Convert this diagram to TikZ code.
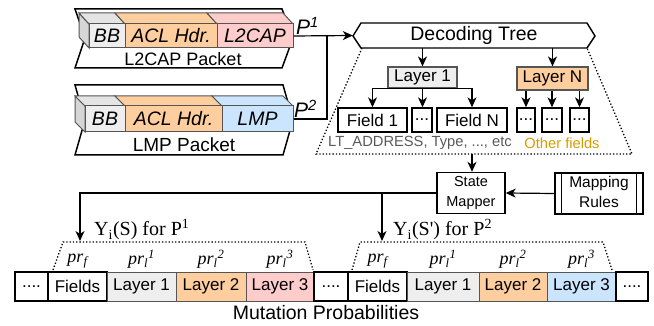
\documentclass[tikz,border=0pt]{standalone}
\usepackage{fontspec}
\setmainfont{Liberation Sans}
\newfontfamily\tnr{Liberation Serif}
\usetikzlibrary{arrows.meta,positioning}

\definecolor{grayfill}{HTML}{EEEEEE}
\definecolor{orangefill}{HTML}{FFCE9F}
\definecolor{pinkfill}{HTML}{FFCCCC}
\definecolor{bluefill}{HTML}{CCE5FF}
\definecolor{edgegray}{HTML}{555555}
\definecolor{sidegray}{HTML}{D6D6D6}
\definecolor{topgray}{HTML}{E4E4E4}
\definecolor{goldtext}{HTML}{D79B00}

\begin{document}
\begin{tikzpicture}[x=1pt, y=-1pt,
	arr/.style={-{Stealth[length=10pt, width=9pt, inset=3pt]}, line width=1.2pt},
	box/.style={draw, line width=1.4pt, inner sep=0pt, font=\fontsize{17}{19}\selectfont},
	cell/.style={draw=edgegray, line width=1pt, inner sep=0pt, minimum height=24pt, font=\fontsize{19.5}{21}\selectfont\itshape},
	seqcell/.style={draw=edgegray, line width=1pt, inner sep=0pt, minimum height=29pt, font=\fontsize{17}{19}\selectfont},
	prlab/.style={inner sep=0pt, font=\fontsize{18}{20}\selectfont\tnr\itshape}]
\useasboundingbox (0,0) rectangle (654,326);

%% Paket 1
\begin{scope}
	\draw[line width=1.5pt, fill=white] (75,9) -- (282,9) -- (293,38) -- (282,68) -- (75,68) -- (85,38) -- cycle;
	\node[inner sep=0pt, font=\fontsize{18}{20}\selectfont] (pk1) at (183,59) {L2CAP Packet};
	%% Wuerfel
	\draw[draw=edgegray, line width=1pt, fill=sidegray] (89,24) -- (79,13) -- (79,37) -- (89,48) -- cycle;
	\draw[draw=edgegray, line width=1pt, fill=topgray] (89,24) -- (79,13) -- (115,13) -- (125,24) -- cycle;
	\draw[draw=edgegray, line width=1pt, fill=orangefill] (125,24) -- (115,13) -- (207,13) -- (217,24) -- cycle;
	\draw[draw=edgegray, line width=1pt, fill=pinkfill] (217,24) -- (207,13) -- (283,13) -- (293,24) -- cycle;
	\node[cell, fill=grayfill, minimum width=36pt] (bb1) at (107,36) {BB};
	\node[cell, fill=orangefill, minimum width=92pt] (acl1) at (171,36) {ACL Hdr.};
	\node[cell, fill=pinkfill, minimum width=76pt] (l2cap1) at (255,36) {L2CAP};
	\node[anchor=south west, inner sep=0pt, font=\fontsize{21}{23}\selectfont\itshape] (lp1) at (296,35) {P\textsuperscript{1}};
\end{scope}

%% Paket 2
\begin{scope}
	\draw[line width=1.5pt, fill=white] (75,85) -- (283,85) -- (293,120) -- (283,155) -- (75,155) -- (85,120) -- cycle;
	\node[inner sep=0pt, font=\fontsize{19}{21}\selectfont] (pk2) at (184,145) {LMP Packet};
	%% Wuerfel
	\draw[draw=edgegray, line width=1pt, fill=sidegray] (85,106) -- (75,96) -- (75,122) -- (85,132) -- cycle;
	\draw[draw=edgegray, line width=1pt, fill=topgray] (85,106) -- (75,96) -- (115,96) -- (125,106) -- cycle;
	\draw[draw=edgegray, line width=1pt, fill=orangefill] (125,106) -- (115,96) -- (212,96) -- (222,106) -- cycle;
	\draw[draw=edgegray, line width=1pt, fill=bluefill] (222,106) -- (212,96) -- (283,96) -- (293,106) -- cycle;
	\node[cell, fill=grayfill, minimum width=40pt, minimum height=26pt] (bb2) at (105,119) {BB};
	\node[cell, fill=orangefill, minimum width=97pt, minimum height=26pt] (acl2) at (173.5,119) {ACL Hdr.};
	\node[cell, fill=bluefill, minimum width=71pt, minimum height=26pt] (lmp2) at (257.5,119) {LMP};
	\node[anchor=south west, inner sep=0pt, font=\fontsize{21}{23}\selectfont\itshape] (lp2) at (294,118) {P\textsuperscript{2}};
\end{scope}

%% Decoding Tree
\draw[line width=1.4pt, fill=white] (353,36) -- (361,23) -- (587,23) -- (595,36) -- (587,48) -- (361,48) -- cycle;
\node[inner sep=0pt, minimum width=242pt, minimum height=25pt, font=\fontsize{19.5}{21}\selectfont] (tree) at (474,35.5) {Decoding Tree};
\draw[dotted, line width=1.3pt] (362,48) -- (316,154) -- (632,154) -- (587,48);
\coordinate (junc) at (327,36);
\draw[line width=1.2pt] (lmp2.east) -| (junc);
\draw[arr] (l2cap1.east) -- (tree.west);

\node[draw=edgegray, line width=1.2pt, fill=grayfill, inner sep=0pt, minimum width=69pt, minimum height=21pt, font=\fontsize{17}{19}\selectfont] (layer1) at (422.5,77.5) {Layer 1};
\node[draw=edgegray, line width=1.2pt, fill=orangefill, inner sep=0pt, minimum width=71pt, minimum height=23pt, font=\fontsize{17}{19}\selectfont] (layerN) at (552.5,78.5) {Layer N};

\node[box, minimum width=69pt, minimum height=24pt] (field1) at (372.5,120) {Field 1};
\node[box, minimum width=20pt, minimum height=24pt] (dots1) at (422,120) {...};
\node[box, minimum width=70pt, minimum height=24pt] (fieldN) at (472,120) {Field N};
\node[box, minimum width=18pt, minimum height=24pt] (oth1) at (526,120) {...};
\node[box, minimum width=20pt, minimum height=24pt] (oth2) at (552,120) {...};
\node[box, minimum width=19pt, minimum height=24pt] (oth3) at (579.5,120) {...};

\draw[arr] (tree.south -| layer1.north) -- (layer1.north);
\draw[arr] (tree.south -| layerN.north) -- (layerN.north);
\draw[arr] (layer1.south) -| (field1.north);
\draw[arr] (layer1.south) -| (fieldN.north);
\draw[arr] (layer1.south) -- (layer1.south |- dots1.north);
\draw[arr] (layerN.south -| oth1.north) -- (oth1.north);
\draw[arr] (layerN.south -| oth2.north) -- (oth2.north);
\draw[arr] (layerN.south -| oth3.north) -- (oth3.north);

\node[text=black!65, inner sep=0pt, font=\fontsize{14.7}{16}\selectfont] (ltaddr) at (420,143) {LT\_ADDRESS, Type, ..., etc};
\node[text=goldtext, inner sep=0pt, font=\fontsize{14.7}{16}\selectfont] (othtxt) at (562,143) {Other fields};

%% State Mapper
\node[box, minimum width=68pt, minimum height=41pt, font=\fontsize{14.5}{20}\selectfont] (mapper) at (471,193)
	{\begin{tabular}{@{}c@{}}State\\Mapper\end{tabular}};
\node[box, minimum width=88pt, minimum height=41pt, font=\fontsize{15.5}{20}\selectfont] (rules) at (599,193.5)
	{\begin{tabular}{@{}c@{}}Mapping\\Rules\end{tabular}};
\draw[line width=1.2pt] ([xshift=7pt]rules.north west) -- ([xshift=7pt]rules.south west);
\draw[line width=1.2pt] ([xshift=-7pt]rules.north east) -- ([xshift=-7pt]rules.south east);
\coordinate (tbot) at (472,154);
\draw[arr] (tbot) -- (mapper.north -| tbot);
\draw[arr] (rules.west) -- (mapper.east);

\coordinate (ytip1) at (80,241);
\coordinate (ytip2) at (382,241);
\draw[arr] (mapper.west) -| (ytip1);
\draw[arr] (mapper.west -| ytip2) -- (ytip2);
\node[anchor=base west, inner sep=0pt, font=\fontsize{20}{22}\selectfont\tnr] (ylab1) at (94,236) {Y\textsubscript{i}(S) for P\textsuperscript{1}};
\node[anchor=base west, inner sep=0pt, font=\fontsize{20}{22}\selectfont\tnr] (ylab2) at (393,236) {Y\textsubscript{i}(S') for P\textsuperscript{2}};

%% Mutation Probabilities
\draw[dotted, line width=1.3pt] (53,270) -- (63,242) -- (305,242) -- (313,270);
\draw[dotted, line width=1.3pt] (352,270) -- (360,242) -- (603,242) -- (612,270);

\node[seqcell, draw=black, line width=1.4pt, minimum width=33pt] (dd1) at (31.5,286.5) {....};
\node[seqcell, draw=black, line width=1.4pt, minimum width=59pt] (fl1) at (77.5,286.5) {Fields};
\node[seqcell, fill=grayfill, minimum width=69pt] (la1) at (141.5,286.5) {Layer 1};
\node[seqcell, fill=orangefill, minimum width=70pt] (lb1) at (211,286.5) {Layer 2};
\node[seqcell, fill=pinkfill, minimum width=68pt] (lc1) at (280,286.5) {Layer 3};
\node[seqcell, draw=black, line width=1.4pt, minimum width=34pt] (dd2) at (331,286.5) {....};
\node[seqcell, draw=black, line width=1.4pt, minimum width=59pt] (fl2) at (377.5,286.5) {Fields};
\node[seqcell, fill=grayfill, minimum width=72pt] (la2) at (443,286.5) {Layer 1};
\node[seqcell, fill=orangefill, minimum width=68pt] (lb2) at (513,286.5) {Layer 2};
\node[seqcell, fill=bluefill, minimum width=69pt] (lc2) at (581.5,286.5) {Layer 3};
\node[seqcell, draw=black, line width=1.4pt, minimum width=32pt] (dd3) at (632,286.5) {....};

\node[prlab, above=3pt of fl1] (prf1) {pr\textsubscript{f}};
\node[prlab, above=3pt of la1] (pra1) {pr\textsubscript{l}\textsuperscript{1}};
\node[prlab, above=3pt of lb1] (prb1) {pr\textsubscript{l}\textsuperscript{2}};
\node[prlab, above=3pt of lc1] (prc1) {pr\textsubscript{l}\textsuperscript{3}};
\node[prlab, above=3pt of fl2] (prf2) {pr\textsubscript{f}};
\node[prlab, above=3pt of la2] (pra2) {pr\textsubscript{l}\textsuperscript{1}};
\node[prlab, above=3pt of lb2] (prb2) {pr\textsubscript{l}\textsuperscript{2}};
\node[prlab, above=3pt of lc2] (prc2) {pr\textsubscript{l}\textsuperscript{3}};

\node[inner sep=0pt, font=\fontsize{19.5}{21}\selectfont] (mutprob) at (326,313) {Mutation Probabilities};
\end{tikzpicture}
\end{document}
